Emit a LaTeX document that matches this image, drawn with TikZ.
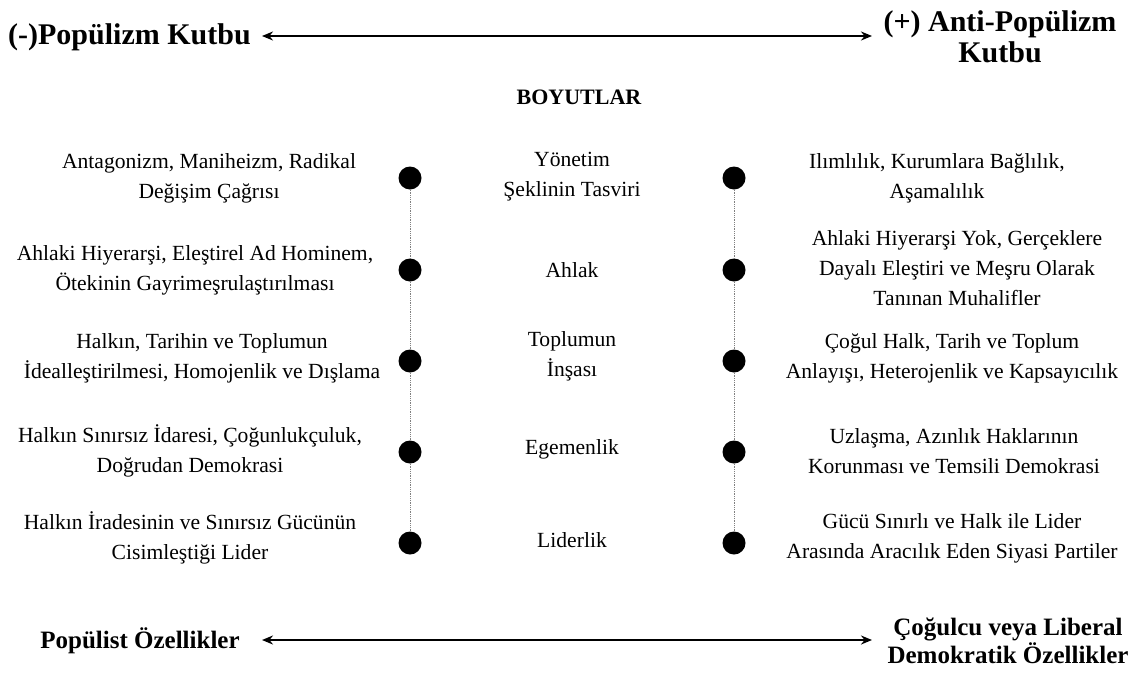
\documentclass[tikz,border=0pt]{standalone}
\usepackage{fontspec}
\setmainfont{Liberation Serif}
\usetikzlibrary{arrows.meta}
\begin{document}
\begin{tikzpicture}[x=1pt,y=-1pt,
  dot/.style={circle,fill=black,inner sep=0pt,minimum size=23pt},
  body/.style={align=center,inner sep=0pt,font=\fontsize{21.6}{30}\selectfont},
  title/.style={align=center,inner sep=0pt,font=\fontsize{30}{31}\selectfont\bfseries},
  sub/.style={align=center,inner sep=0pt,font=\fontsize{25}{28}\selectfont\bfseries},
  axis/.style={line width=2.2pt,{Stealth[length=11pt,width=9pt]}-{Stealth[length=11pt,width=9pt]}},
  link/.style={densely dotted,gray,line width=0.8pt}]
\useasboundingbox (0,0) rectangle (1133,675);
% top
\node[title,anchor=west] (tl) at (8,37) {(-)Popülizm Kutbu};
\node[title] (tr) at (1000,37) {(+) Anti-Popülizm\\Kutbu};
\coordinate (ta) at (262,36);
\coordinate (tb) at (872,36);
\draw[axis] (ta) -- (tb);
\node[font=\fontsize{22}{24}\selectfont\bfseries] (boy) at (579,97) {BOYUTLAR};
% dots
\foreach \i/\y in {1/178,2/270,3/361,4/452,5/543}{
  \node[dot] (l\i) at (410,\y) {};
  \node[dot] (r\i) at (734,\y) {};
}
\draw[link] (l1) -- (l2) -- (l3) -- (l4) -- (l5);
\draw[link] (r1) -- (r2) -- (r3) -- (r4) -- (r5);
% left column
\node[body] (a1) at (209,178) {Antagonizm, Maniheizm, Radikal\\Değişim Çağrısı};
\node[body] (a2) at (195,270) {Ahlaki Hiyerarşi, Eleştirel Ad Hominem,\\Ötekinin Gayrimeşrulaştırılması};
\node[body] (a3) at (202,358) {Halkın, Tarihin ve Toplumun\\İdealleştirilmesi, Homojenlik ve Dışlama};
\node[body] (a4) at (190,451) {Halkın Sınırsız İdaresi, Çoğunlukçuluk,\\Doğrudan Demokrasi};
\node[body] (a5) at (190,538) {Halkın İradesinin ve Sınırsız Gücünün\\Cisimleştiği Lider};
% middle column
\node[body] (m1) at (572,177) {Yönetim\\Şeklinin Tasviri};
\node[body] (m2) at (572,270) {Ahlak};
\node[body] (m3) at (572,356) {Toplumun\\İnşası};
\node[body] (m4) at (572,449) {Egemenlik};
\node[body] (m5) at (572,540) {Liderlik};
% right column
\node[body] (b1) at (937,178) {Ilımlılık, Kurumlara Bağlılık,\\Aşamalılık};
\node[body] (b2) at (957,268) {Ahlaki Hiyerarşi Yok, Gerçeklere\\Dayalı Eleştiri ve Meşru Olarak\\Tanınan Muhalifler};
\node[body] (b3) at (952,358) {Çoğul Halk, Tarih ve Toplum\\Anlayışı, Heterojenlik ve Kapsayıcılık};
\node[body] (b4) at (954,451) {Uzlaşma, Azınlık Haklarının\\Korunması ve Temsili Demokrasi};
\node[body] (b5) at (952,538) {Gücü Sınırlı ve Halk ile Lider\\Arasında Aracılık Eden Siyasi Partiler};
% bottom
\node[sub] (bl) at (140,641) {Popülist Özellikler};
\node[sub] (br) at (1008,641) {Çoğulcu veya Liberal\\Demokratik Özellikler};
\coordinate (ba) at (262,640);
\coordinate (bb) at (872,640);
\draw[axis] (ba) -- (bb);
\end{tikzpicture}
\end{document}
